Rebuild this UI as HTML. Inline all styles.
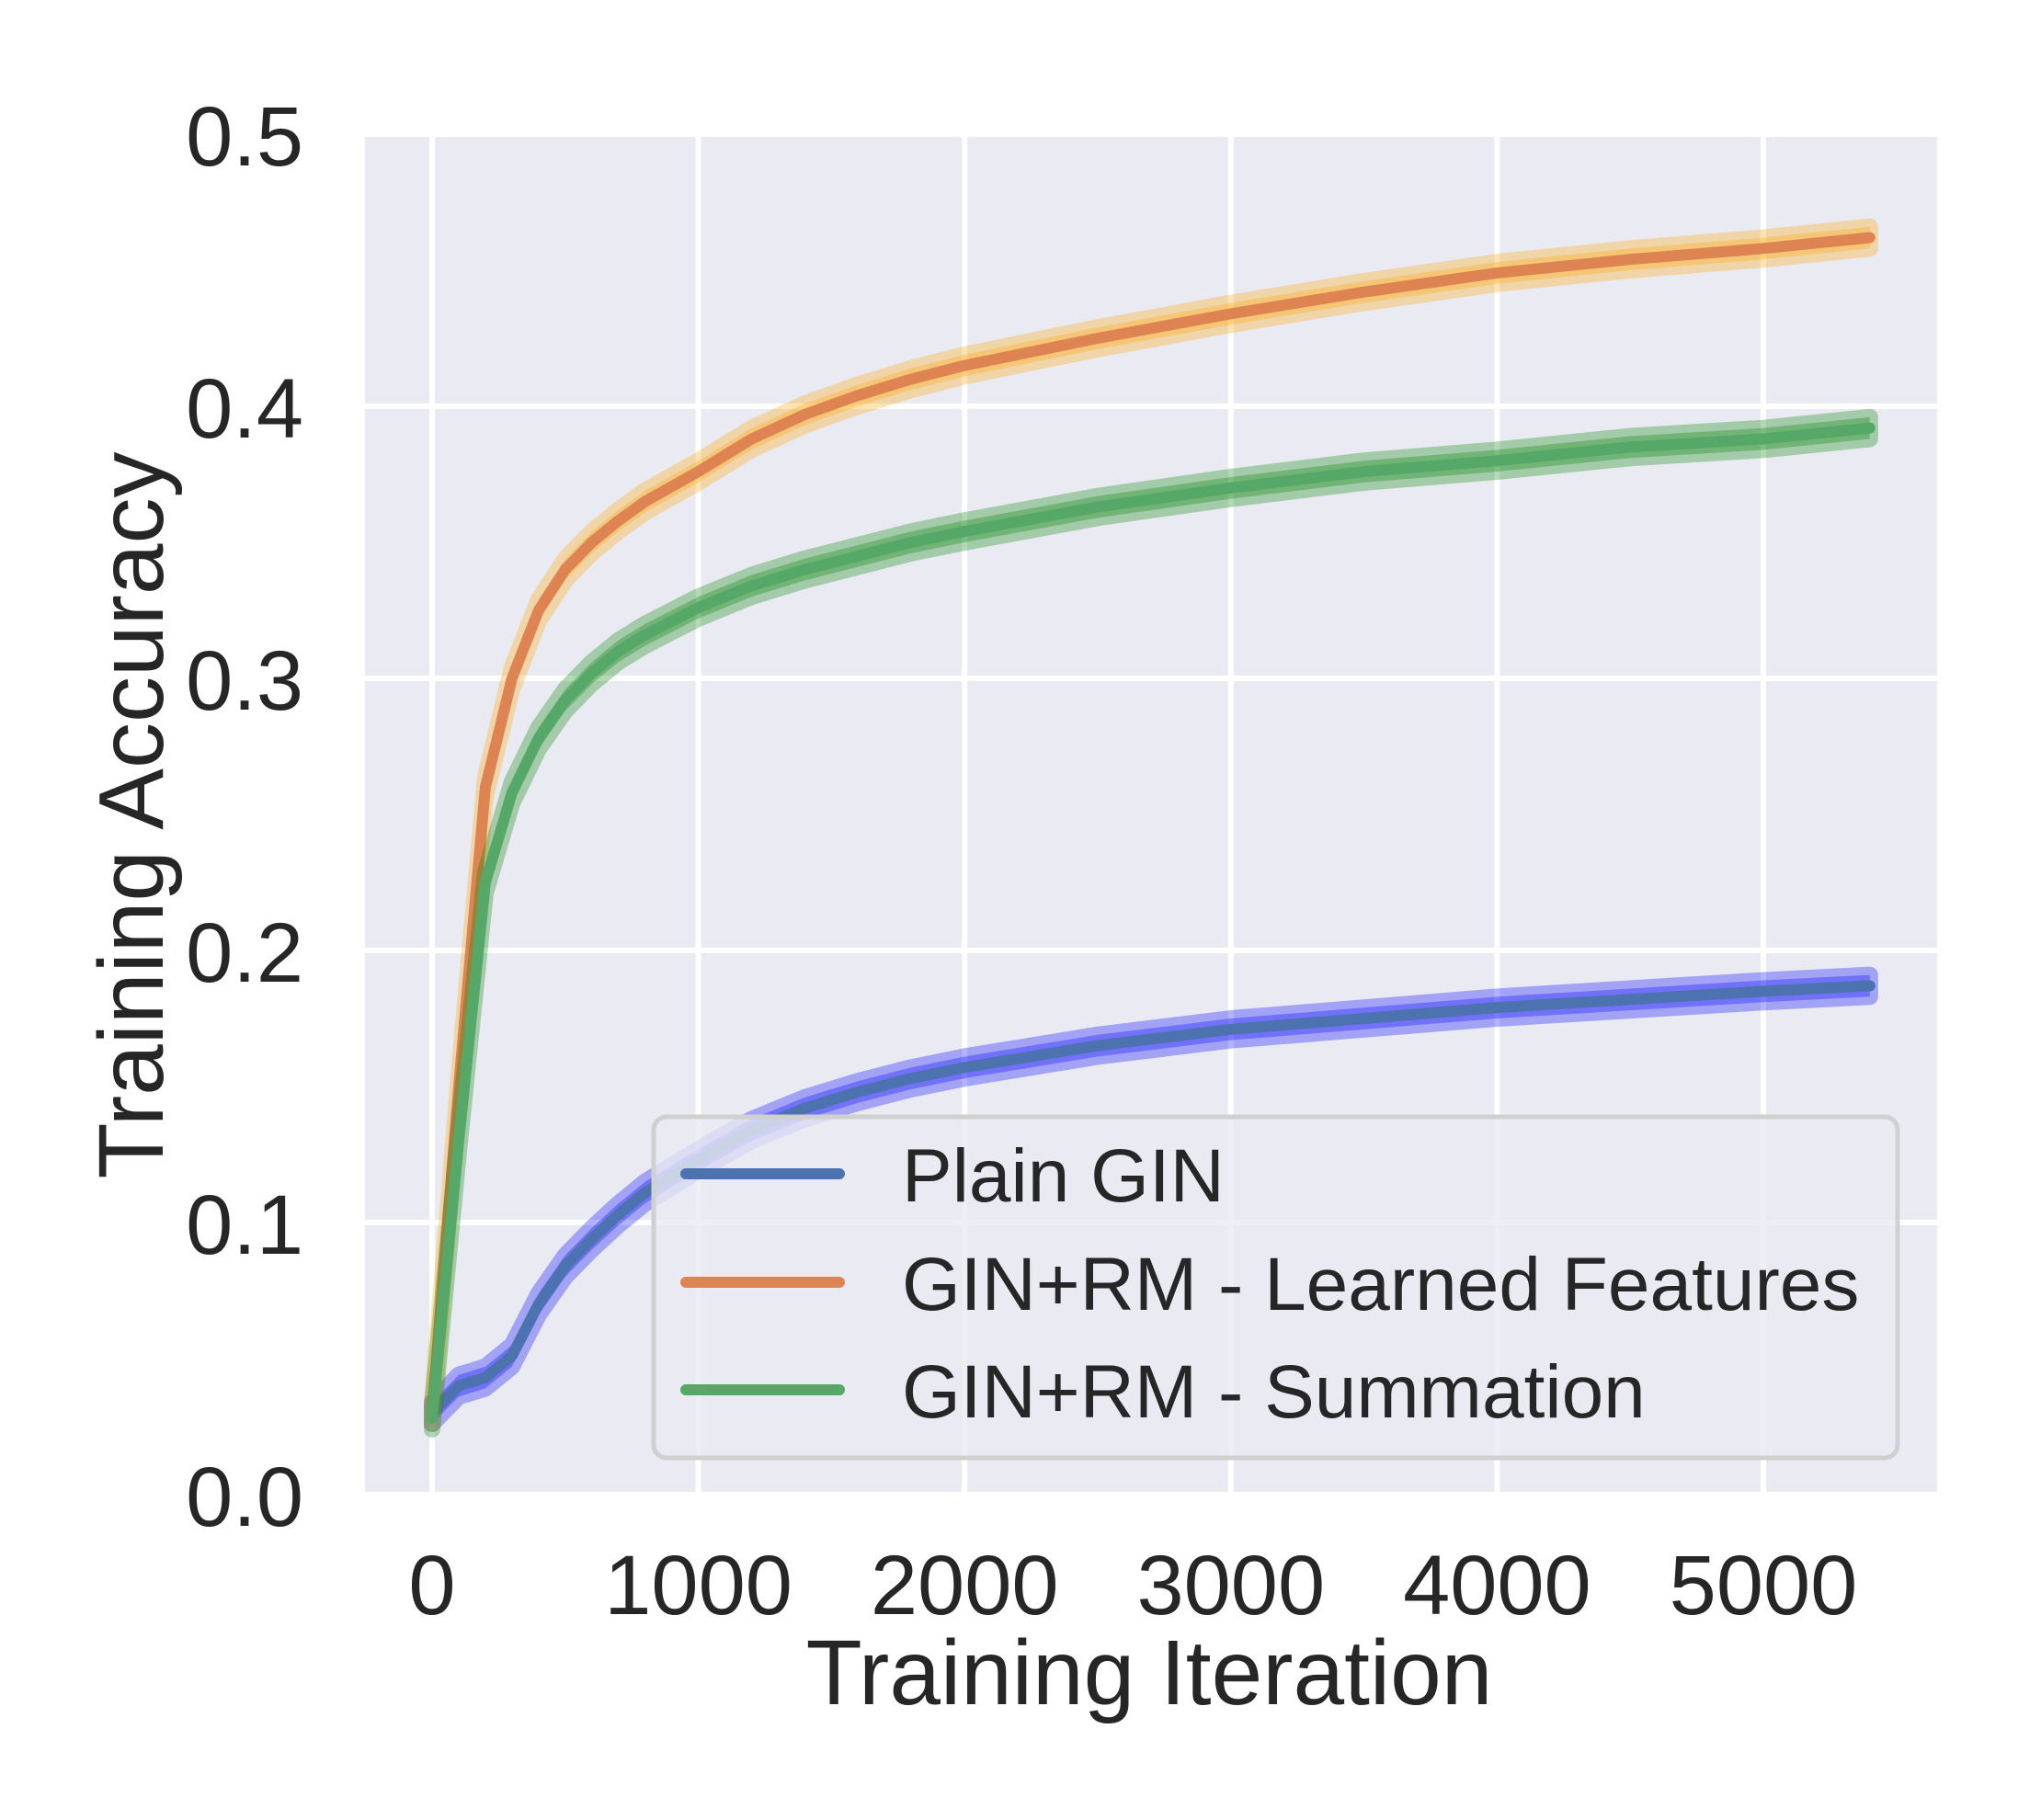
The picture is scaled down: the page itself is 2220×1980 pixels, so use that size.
<!DOCTYPE html>
<html><head><meta charset="utf-8"><style>
html,body{margin:0;padding:0;background:#fff;}
svg{display:block;font-family:"Liberation Sans",Arial,sans-serif;}
</style></head><body>
<svg id="chart" width="2220" height="1980" viewBox="0 0 2220 1980" xmlns="http://www.w3.org/2000/svg">
<rect x="397" y="146" width="1710" height="1480" fill="#eaeaf2"/>
<g id="grid"></g>
<g id="series"></g>
<g id="ticks"></g>
<text x="1250" y="1854" font-size="100" fill="#262626" text-anchor="middle">Training Iteration</text>
<text x="0" y="0" font-size="100" fill="#262626" text-anchor="middle" transform="translate(177,887) rotate(-90)">Training Accuracy</text>
<g>
<rect x="711" y="1215" width="1353" height="371" rx="14" fill="rgba(234,234,242,0.8)" stroke="#d0d0d0" stroke-width="5"/>
<g>
<line x1="746" y1="1277" x2="913" y2="1277" stroke="#4c72b0" stroke-width="12" stroke-linecap="round"/>
<text x="981" y="1307" font-size="82" fill="#262626">Plain GIN</text></g>
<g>
<line x1="746" y1="1395" x2="913" y2="1395" stroke="#dd8452" stroke-width="12" stroke-linecap="round"/>
<text x="981" y="1425" font-size="82" fill="#262626">GIN+RM - Learned Features</text></g>
<g>
<line x1="746" y1="1512" x2="913" y2="1512" stroke="#55a868" stroke-width="12" stroke-linecap="round"/>
<text x="981" y="1542" font-size="82" fill="#262626">GIN+RM - Summation</text></g>
</g>
</svg>
<script>
const iterations = [0,100,200,300,400,500,600,700,800,1000,1200,1400,1600,1800,2000,2500,3000,3500,4000,4500,5000,5400];
const plainGin = [0.030,0.040,0.043,0.051,0.070,0.084,0.094,0.103,0.111,0.123,0.134,0.142,0.148,0.153,0.157,0.165,0.171,0.175,0.179,0.182,0.185,0.187];
const learnedFeatures = [0.030,0.150,0.260,0.300,0.325,0.340,0.350,0.358,0.365,0.376,0.388,0.397,0.404,0.410,0.415,0.425,0.434,0.442,0.449,0.454,0.458,0.462];
const summation = [0.028,0.130,0.225,0.258,0.278,0.292,0.302,0.310,0.316,0.326,0.334,0.340,0.345,0.350,0.354,0.363,0.370,0.376,0.380,0.385,0.388,0.392];
const plainGinErr = 0.004;
const learnedErr = 0.004;
const summationErr = 0.004;
const xTicks = [0,1000,2000,3000,4000,5000];
const yTicks = [0.0,0.1,0.2,0.3,0.4,0.5];
const yTickLabels = ["0.0","0.1","0.2","0.3","0.4","0.5"];

const NS = "http://www.w3.org/2000/svg";
function xs(v){ return 470 + v * (1918 - 470) / 5000; }
function ys(v){ return 1626 - v * (1626 - 146) / 0.5; }
function mk(tag, attrs, parent){
  const el = document.createElementNS(NS, tag);
  for (const k in attrs) el.setAttribute(k, attrs[k]);
  parent.appendChild(el);
  return el;
}
const grid = document.getElementById('grid');
const ticks = document.getElementById('ticks');
xTicks.forEach(function(t){
  const l = mk('line', {x1: xs(t), x2: xs(t), y1: 146, y2: 1626, stroke: '#fff', 'stroke-width': 6}, grid);
  
  
  const tx = mk('text', {x: xs(t), y: 1756, 'font-size': 92, fill: '#262626', 'text-anchor': 'middle'}, ticks);
  tx.textContent = String(t);
  
  
});
yTicks.forEach(function(t, i){
  const l = mk('line', {x1: 397, x2: 2107, y1: ys(t), y2: ys(t), stroke: '#fff', 'stroke-width': 6}, grid);
  
  
  const tx = mk('text', {x: 330, y: ys(t) + 34, 'font-size': 92, fill: '#262626', 'text-anchor': 'end'}, ticks);
  tx.textContent = yTickLabels[i];
  
  
});
const layer = document.getElementById('series');
function drawSeries(vals, err, lineColor, bandColor, name){
  let band = '';
  iterations.forEach(function(x, i){ band += (i ? 'L' : 'M') + xs(x) + ' ' + ys(vals[i] + err) + ' '; });
  for (let i = iterations.length - 1; i >= 0; i--) band += 'L' + xs(iterations[i]) + ' ' + ys(vals[i] - err) + ' ';
  band += 'Z';
  let line = '';
  iterations.forEach(function(x, i){ line += (i ? 'L' : 'M') + xs(x) + ' ' + ys(vals[i]) + ' '; });
  const b = mk('path', {d: band, fill: bandColor, 'fill-opacity': 0.3, stroke: bandColor, 'stroke-opacity': 0.3, 'stroke-width': 18, 'stroke-linejoin': 'round'}, layer);
  
  
  const ln = mk('path', {d: line, fill: 'none', stroke: lineColor, 'stroke-width': 12, 'stroke-linecap': 'round', 'stroke-linejoin': 'round'}, layer);
  
  
}
drawSeries(plainGin, plainGinErr, '#4c72b0', '#0000ff', 'plain-gin');
drawSeries(learnedFeatures, learnedErr, '#dd8452', '#ffa500', 'learned-features');
drawSeries(summation, summationErr, '#55a868', '#008000', 'summation');
</script>
</body></html>
